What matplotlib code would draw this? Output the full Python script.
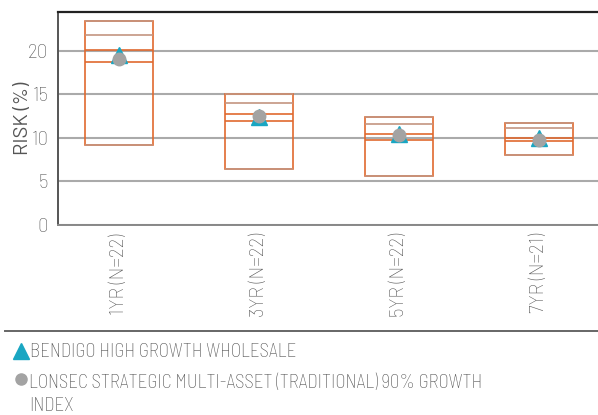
import matplotlib
matplotlib.use("Agg")
import matplotlib.pyplot as plt
from matplotlib.patches import Rectangle
from matplotlib.lines import Line2D

# ---- data ----
categories = ["1YR (N=22)", "3YR (N=22)", "5YR (N=22)", "7YR (N=21)"]
box_top = [23.37, 14.98, 12.38, 11.69]
box_q1 = [21.8, 14.06, 11.57, 11.19]
box_q2 = [20.08, 12.76, 10.5, 10.0]
box_q3 = [18.7, 11.99, 9.8, 9.62]
box_bottom = [9.2, 6.44, 5.6, 8.05]
fund = [19.5, 12.45, 10.4, 10.0]
index_vals = [19.0, 12.5, 10.3, 9.8]
yticks = [0, 5, 10, 15, 20]
legend_labels = ["BENDIGO HIGH GROWTH WHOLESALE",
                 "LONSEC STRATEGIC MULTI-ASSET (TRADITIONAL) 90% GROWTH\nINDEX"]

plt.rcParams['font.family'] = ['Barlow Semi Condensed', 'DejaVu Sans']
plt.rcParams['font.weight'] = 'light'
wide = ['Barlow', 'Barlow Semi Condensed', 'DejaVu Sans']

txt = "#555555"
orange = "#E0692F"
brown = "#C49580"

fig = plt.figure(figsize=(5.98, 4.15), dpi=100)
W, H = 598, 415
ax = fig.add_axes([58 / W, 1 - 225 / H, 1 - 58 / W, (225 - 12) / H])

bw = 0.486
for i in range(len(categories)):
    ax.add_patch(Rectangle((i - bw / 2, box_bottom[i]), bw, box_top[i] - box_bottom[i],
                           fill=False, edgecolor=orange, lw=1.2, zorder=3))
    ax.hlines(box_top[i], i - bw / 2, i + bw / 2, color=brown, lw=1.2, zorder=3)
    ax.hlines(box_q1[i], i - bw / 2, i + bw / 2, color=brown, lw=1.2, zorder=3)
    ax.hlines(box_q2[i], i - bw / 2, i + bw / 2, color=orange, lw=1.2, zorder=3)
    ax.hlines(box_q3[i], i - bw / 2, i + bw / 2, color=orange, lw=1.2, zorder=3)
    ax.hlines(box_bottom[i], i - bw / 2, i + bw / 2, color=brown, lw=1.2, zorder=3)

x = list(range(len(categories)))
ax.plot(x, fund, linestyle='none', marker='^', color="#19A6C2", markersize=11, zorder=4)
ax.plot(x, index_vals, linestyle='none', marker='o', color="#A3A3A3", markersize=9, zorder=5)

ax.set_xlim(-(119 - 58) / 140, (598 - 119) / 140)
ax.set_ylim(0, 24.45)
ax.set_yticks(yticks)
ax.set_xticks(x)
ax.set_xticklabels(categories, rotation=90, fontsize=13.5, color=txt, family=wide)
ax.set_yticklabels([str(v) for v in yticks], fontsize=13.5, color=txt, family=wide)
ax.tick_params(axis='y', length=0, pad=7)
ax.tick_params(axis='x', length=0, pad=6)
ax.set_ylabel("RISK (%)", fontsize=14.5, color=txt, family=wide)
ax.yaxis.set_label_coords(-0.048, 0.5)
ax.yaxis.grid(True, color="#AAAAAA", lw=1.5)
ax.set_axisbelow(True)
ax.spines['right'].set_visible(False)
ax.spines['top'].set_color("#222222")
ax.spines['top'].set_linewidth(1.6)
ax.spines['left'].set_color("#555555")
ax.spines['left'].set_linewidth(1.4)
ax.spines['bottom'].set_color("#888888")
ax.spines['bottom'].set_linewidth(1.4)

# legend area
fig.add_artist(Line2D([5 / W, 1], [1 - 331 / H, 1 - 331 / H], color="#666666", lw=1.4))
fig.add_artist(Line2D([21.5 / W], [1 - 351 / H], marker='^', color="#19A6C2", markersize=12,
                      linestyle='none'))
fig.text(30 / W, 1 - 352 / H, legend_labels[0], fontsize=13.6, color=txt, va='center', ha='left')
fig.add_artist(Line2D([21.5 / W], [1 - 379 / H], marker='o', color="#A3A3A3", markersize=8,
                      linestyle='none'))
fig.text(29 / W, 1 - 389.5 / H, legend_labels[1], fontsize=13.6, color=txt, va='center_baseline',
         ha='left', linespacing=1.38)

fig.savefig("out.png", dpi=100)
